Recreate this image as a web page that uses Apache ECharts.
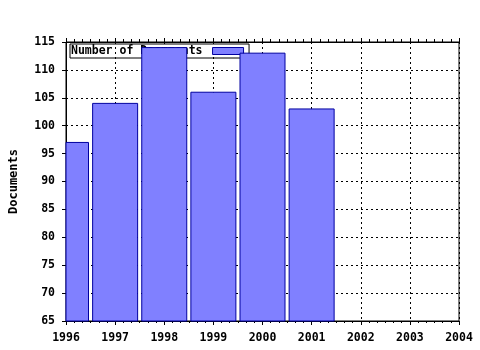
<!DOCTYPE html>
<html><head><meta charset="utf-8">
<script src="https://cdn.jsdelivr.net/npm/echarts@6/dist/echarts.min.js"></script>
<style>html,body{margin:0;padding:0;background:#fff}#c{width:480px;height:350px}</style>
</head><body><div id="c"></div>
<script>
const years = [1996, 1997, 1998, 1999, 2000, 2001];
const documents = [97, 104, 114, 106, 113, 103];
const xTicks = [1996, 2004, 1];
const yTicks = [65, 115, 5];
const seriesName = 'Number of Documents';
const axisName = 'Documents';

const font = 'DejaVu Sans Mono';
const chart = echarts.init(document.getElementById('c'));
const lbl = {color: '#000', fontFamily: font, fontWeight: 'bold', fontSize: 11.5};
chart.setOption({
  animation: false,
  grid: {left: 65, right: 21, top: 42, bottom: 29, show: true, borderColor: '#000', borderWidth: 1, backgroundColor: 'transparent'},
  legend: {
    data: [seriesName], left: 70, top: 44, itemGap: 0, z: 0, zlevel: 0,
    orient: 'horizontal', align: 'right', padding: [0, 5, 0, 1],
    itemWidth: 31, itemHeight: 7,
    backgroundColor: '#fff', borderColor: '#000', borderWidth: 1, borderRadius: 0,
    textStyle: {color: '#000', fontFamily: font, fontWeight: 'bold', fontSize: 11.5, lineHeight: 12, padding: [2, 5, 0, 0]},
    icon: 'rect',
    itemStyle: {color: '#8080ff', borderColor: '#0000a0', borderWidth: 1}
  },
  xAxis: [{
    type: 'value', min: xTicks[0], max: xTicks[1], interval: xTicks[2],
    axisLine: {show: true, lineStyle: {color: '#000'}},
    axisTick: {show: true, length: 4, lineStyle: {color: '#000'}},
    minorTick: {show: true, splitNumber: 6, length: 2, lineStyle: {color: '#000'}},
    splitLine: {show: true, lineStyle: {color: '#000', type: [2, 3]}},
    axisLabel: Object.assign({margin: 11}, lbl, {formatter: v => String(v)})
  }, {
    type: 'value', position: 'top', min: xTicks[0], max: xTicks[1], interval: xTicks[2],
    axisLine: {show: true, lineStyle: {color: '#000'}},
    axisTick: {show: true, length: 4, lineStyle: {color: '#000'}},
    minorTick: {show: true, splitNumber: 6, length: 3, lineStyle: {color: '#000'}},
    splitLine: {show: false}, axisLabel: {show: false}
  }],
  yAxis: {
    type: 'value', min: yTicks[0], max: yTicks[1], interval: yTicks[2],
    name: axisName, nameLocation: 'middle', nameGap: 46,
    nameTextStyle: {color: '#000', fontFamily: font, fontWeight: 'bold', fontSize: 12},
    axisLine: {show: true, lineStyle: {color: '#000'}},
    axisTick: {show: true, length: 4, lineStyle: {color: '#000'}},
    splitLine: {show: true, lineStyle: {color: '#000', type: [2, 3]}},
    axisLabel: Object.assign({margin: 11}, lbl)
  },
  series: [{
    name: seriesName, type: 'custom', z: 5, zlevel: 1,
    data: years.map((y, i) => [y, documents[i]]),
    encode: {x: 0, y: 1},
    itemStyle: {color: '#8080ff', borderColor: '#0000a0', borderWidth: 1},
    renderItem: function (params, api) {
      const x = api.value(0), v = api.value(1);
      const top = api.coord([x, v]);
      const base = api.coord([x, yTicks[0]]);
      const w = 45;
      const cs = params.coordSys;
      const shape = echarts.graphic.clipRectByRect(
        {x: top[0] - w / 2, y: top[1], width: w, height: base[1] - top[1]},
        {x: cs.x, y: cs.y, width: cs.width, height: cs.height});
      if (!shape) return;
      return {type: 'rect', shape: shape,
        style: {fill: '#8080ff', stroke: '#0000a0', lineWidth: 1}};
    }
  }]
});
</script></body></html>
